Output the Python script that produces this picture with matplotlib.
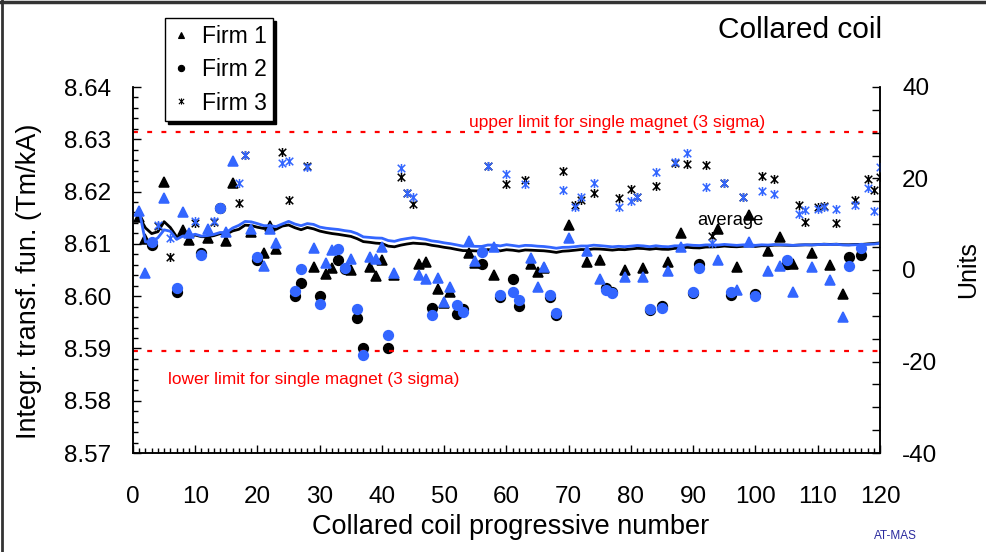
import numpy as np
import matplotlib.pyplot as plt
from matplotlib.lines import Line2D
from matplotlib.path import Path
from matplotlib.ticker import MultipleLocator

plt.rcParams['font.family'] = ['Liberation Sans', 'DejaVu Sans']
plt.rcParams['axes.unicode_minus'] = False

# coil number, producing firm (1, 2, 3)
coil = np.arange(1, 121)
firm = np.array([
    1, 1, 2, 3, 1, 3, 2, 1, 1, 3,
    2, 1, 3, 2, 1, 1, 3, 3, 1, 2,
    1, 1, 1, 3, 3, 2, 2, 3, 1, 2,
    1, 1, 2, 2, 1, 2, 2, 1, 1, 1,
    2, 1, 3, 3, 3, 1, 1, 2, 1, 1,
    1, 2, 2, 1, 1, 2, 3, 1, 2, 3,
    2, 2, 3, 1, 1, 1, 2, 2, 3, 1,
    3, 3, 1, 3, 1, 2, 2, 3, 1, 3,
    3, 1, 2, 3, 2, 1, 3, 1, 3, 2,
    2, 3, 3, 1, 3, 2, 1, 3, 1, 2,
    3, 1, 3, 1, 2, 1, 3, 3, 1, 3,
    3, 1, 3, 1, 2, 3, 2, 3, 3, 3])

# integrated transfer function (Tm/kA)
tf = np.array([
    8.6152, 8.6109, 8.6098, 8.6134, 8.6219, 8.6075, 8.6008, 8.6127, 8.6107, 8.6139,
    8.6083, 8.6112, 8.6142, 8.6169, 8.6105, 8.6216, 8.6178, 8.6270, 8.6123, 8.6069,
    8.6083, 8.6134, 8.6090, 8.6276, 8.6184, 8.6001, 8.6026, 8.6248, 8.6056, 8.6001,
    8.6042, 8.6053, 8.6069, 8.6052, 8.6050, 8.5958, 8.5900, 8.6056, 8.6039, 8.6070,
    8.5900, 8.6040, 8.6228, 8.6197, 8.6176, 8.6062, 8.6065, 8.5977, 8.6013, 8.5987,
    8.6008, 8.5966, 8.5975, 8.6083, 8.6063, 8.6062, 8.6249, 8.6040, 8.5998, 8.6214,
    8.6032, 8.5981, 8.6223, 8.6061, 8.6047, 8.6054, 8.5999, 8.5964, 8.6240, 8.6137,
    8.6174, 8.6184, 8.6066, 8.6197, 8.6070, 8.6015, 8.6008, 8.6187, 8.6050, 8.6204,
    8.6189, 8.6054, 8.5973, 8.6211, 8.5982, 8.6065, 8.6255, 8.6120, 8.6253, 8.6006,
    8.6061, 8.6251, 8.6115, 8.6128, 8.6217, 8.6002, 8.6055, 8.6190, 8.6155, 8.6004,
    8.6230, 8.6087, 8.6224, 8.6114, 8.6061, 8.6061, 8.6174, 8.6142, 8.6082, 8.6170,
    8.6172, 8.6060, 8.6139, 8.6005, 8.6074, 8.6184, 8.6079, 8.6224, 8.6203, 8.6227])

# same coils in units (right scale)
units = np.array([
    13.0, -0.7, 6.1, 9.8, 15.7, 6.9, -4.0, 12.6, 8.0, 10.8,
    3.3, 8.9, 10.8, 13.6, 8.2, 23.8, 19.1, 25.1, 8.9, 2.9,
    0.9, 8.9, 6.0, 23.3, 23.9, -4.5, 0.2, 22.6, 4.9, -7.4,
    1.6, 4.4, 4.5, 0.5, 2.4, -8.6, -18.6, 2.9, 2.4, 5.1,
    -14.2, -0.7, 22.2, 16.8, 15.9, -1.1, -2.0, -9.8, -1.7, -6.9,
    -3.7, -7.7, -9.1, 6.3, 2.0, 4.0, 22.7, 5.1, -5.5, 21.0,
    -4.7, -6.6, 18.8, 2.7, -3.7, 0.6, -5.5, -9.5, 17.5, 7.1,
    13.8, 16.0, 4.2, 19.1, -2.0, -4.4, -5.1, 13.8, -1.5, 15.1,
    15.9, -1.5, -8.6, 21.5, -8.2, -0.2, 23.5, 5.0, 25.6, -4.7,
    0.5, 18.2, 5.8, 2.2, 19.1, -4.7, -4.4, 16.0, 6.2, -5.6,
    17.3, -0.2, 16.6, 0.9, 2.2, -4.9, 12.2, 13.1, 0.6, 13.3,
    13.7, -2.2, 13.3, -10.2, 0.9, 14.2, 4.7, 17.9, 13.0, 22.6])

upper_limit = 8.6313
lower_limit = 8.5896

firm_names = ['Firm 1', 'Firm 2', 'Firm 3']

# star marker: an X with a vertical bar through it
star = Path([(-1, -1), (1, 1), (-1, 1), (1, -1), (0, -1.2), (0, 1.2)],
            [Path.MOVETO, Path.LINETO] * 3)
markers = {1: ('^', 7.5), 2: ('o', 7), 3: (star, 6.5)}
blue = '#3366ff'

# running averages
tf_avg = np.cumsum(tf) / coil
units_avg = np.cumsum(units) / coil

fig = plt.figure(figsize=(9.87, 5.52), dpi=100)
ax = fig.add_axes([133 / 987, 99 / 552, 747 / 987, 366 / 552])
ax2 = ax.twinx()

for f in (1, 2, 3):
    m, s = markers[f]
    sel = firm == f
    ax.plot(coil[sel], tf[sel], linestyle='none', marker=m, ms=s,
            color='black', mec='black', mew=1.1)
    ax2.plot(coil[sel], units[sel], linestyle='none', marker=m, ms=s,
             color=blue, mec=blue, mew=1.1)

ax.plot(coil, tf_avg, color='black', lw=2)
ax2.plot(coil, units_avg, color=blue, lw=2)

for lim in (upper_limit, lower_limit):
    ax.axhline(lim, color='red', lw=1.6, linestyle=(0, (2.2, 4.2)))

ax.text(77.8, 8.6333, 'upper limit for single magnet (3 sigma)', color='red',
        fontsize=12.5, ha='center', va='center')
ax.text(5.6, 8.5840, 'lower limit for single magnet (3 sigma)', color='red',
        fontsize=12.4, ha='left', va='center')
ax.text(90.6, 8.6144, 'average', color='black', fontsize=13.2, ha='left', va='center')

ax.set_xlim(0, 120)
ax.set_ylim(8.57, 8.64)
ax2.set_ylim(-40, 40)

ax.xaxis.set_major_locator(MultipleLocator(10))
ax.xaxis.set_minor_locator(MultipleLocator(1))
ax.yaxis.set_major_locator(MultipleLocator(0.01))
ax.yaxis.set_minor_locator(MultipleLocator(0.002))
ax.yaxis.set_major_formatter(plt.FormatStrFormatter('%.2f'))
ax2.yaxis.set_major_locator(MultipleLocator(20))
ax2.yaxis.set_minor_locator(MultipleLocator(5))

for a in (ax, ax2):
    a.spines['top'].set_visible(False)
    for sp in a.spines.values():
        sp.set_linewidth(1.1)
    a.tick_params(which='major', direction='in', length=6, width=1.0,
                  labelsize=17.5, pad=16)
    a.tick_params(which='minor', direction='in', length=3.8, width=1.0)
ax.tick_params(axis='x', which='major', pad=24)
ax2.tick_params(which='minor', length=6)

ax.set_xlabel('Collared coil progressive number', fontsize=19.5)
ax.xaxis.set_label_coords(0.506, -0.168)
ax.set_ylabel('Integr. transf. fun. (Tm/kA)', fontsize=19.5)
ax.yaxis.set_label_coords(-0.122, 0.47)
ax2.set_ylabel('Units', fontsize=18)
ax2.yaxis.set_label_coords(1.102, 0.5)

handles = [Line2D([], [], linestyle='none', marker=markers[f][0], ms=4.5,
                  color='black', mew=0.8) for f in (1, 2, 3)]
leg = fig.legend(handles, firm_names, loc='upper left',
                 bbox_to_anchor=(165 / 987, 1 - 18 / 552), fontsize=16.5,
                 frameon=True, fancybox=False, borderaxespad=0,
                 borderpad=0.3, handlelength=0.8, handletextpad=0.5,
                 labelspacing=0.45, shadow={'color': 'black', 'alpha': 1})
leg.get_frame().set_edgecolor('black')
leg.get_frame().set_linewidth(1.0)

fig.text(882 / 987, 1 - 30 / 552, 'Collared coil', fontsize=21.5,
         ha='right', va='center')
fig.text(895 / 987, 1 - 536 / 552, 'AT-MAS', fontsize=8.5, color='#2b2b9e',
         ha='center', va='center')

# dark frame edges along top and left
fig.add_artist(Line2D([0, 1], [0.997, 0.997], transform=fig.transFigure,
                      color='#333333', lw=2.5))
fig.add_artist(Line2D([0.002, 0.002], [0, 1], transform=fig.transFigure,
                      color='#333333', lw=2))

fig.savefig('out.png', dpi=100)
